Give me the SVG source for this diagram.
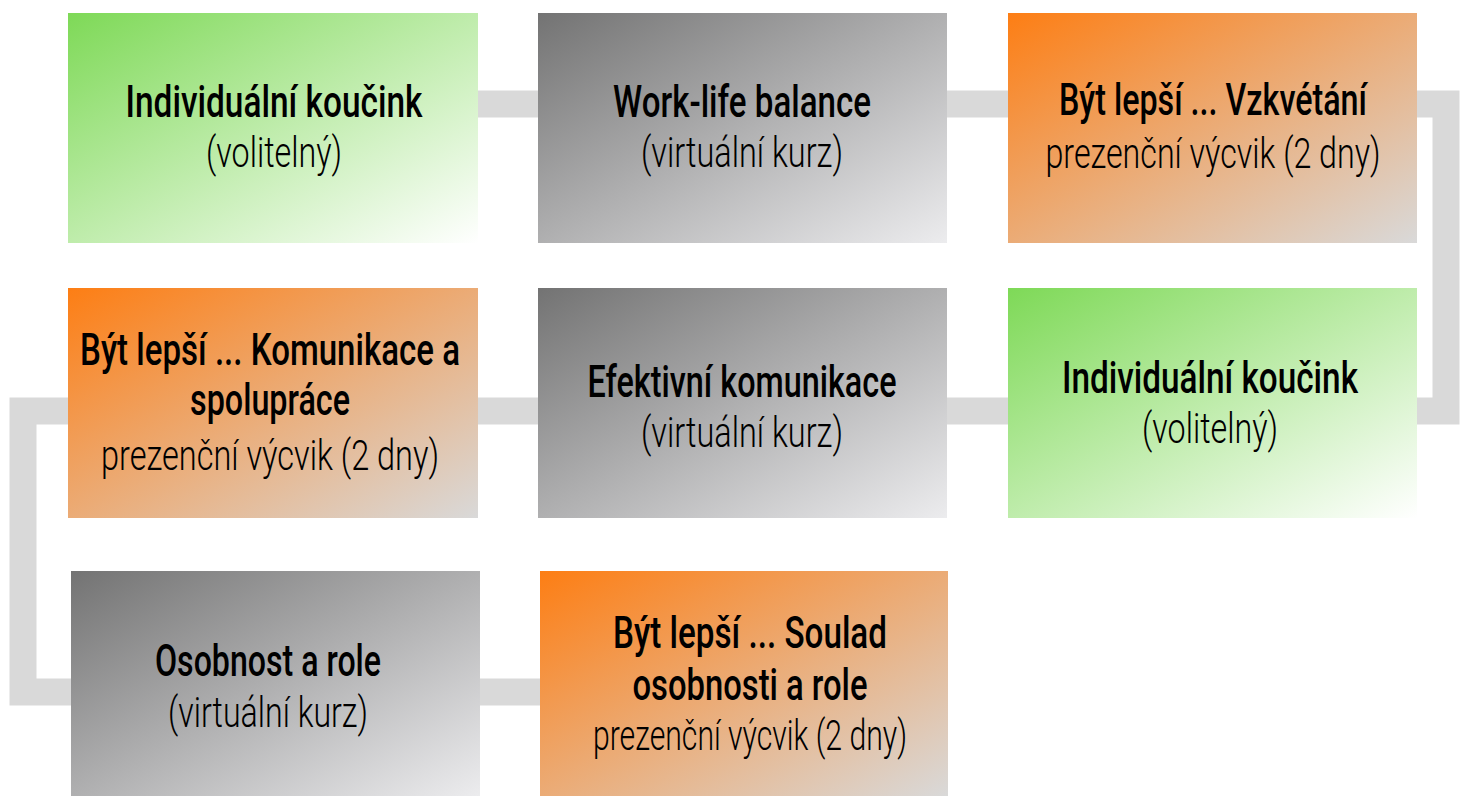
<svg xmlns="http://www.w3.org/2000/svg" width="1463" height="796" viewBox="0 0 1463 796">
<defs>
<linearGradient id="gGreen" x1="0" y1="0" x2="1" y2="1"><stop offset="0" stop-color="#7ed957"/><stop offset="1" stop-color="#ffffff"/></linearGradient>
<linearGradient id="gGray" x1="0" y1="0" x2="1" y2="1"><stop offset="0" stop-color="#737373"/><stop offset="1" stop-color="#ececee"/></linearGradient>
<linearGradient id="gOrange" x1="0" y1="0" x2="1" y2="1"><stop offset="0" stop-color="#fd7e14"/><stop offset="1" stop-color="#d9d9d9"/></linearGradient>
<style>
.t1{font-family:Roboto,"Liberation Sans",sans-serif;font-size:45px;font-weight:500;fill:#000;text-anchor:middle}
.t2{font-family:Roboto,"Liberation Sans",sans-serif;font-size:42px;font-weight:300;fill:#000;text-anchor:middle}
.green{fill:url(#gGreen)}
.gray{fill:url(#gGray)}
.orange{fill:url(#gOrange)}
</style>
</defs>
<rect width="1463" height="796" fill="#fff"/>
<g id="connectors">
<path d="M 273 104 H 1446 V 411 H 23 V 692 H 744" fill="none" stroke="#d9d9d9" stroke-width="27" stroke-linejoin="miter"/>
</g>
<g id="n1">
<rect class="green" x="68" y="13" width="410" height="230"/>
<text class="t1" x="274" y="117" textLength="297" lengthAdjust="spacingAndGlyphs">Individuální koučink</text>
<text class="t2" x="274" y="167" textLength="136" lengthAdjust="spacingAndGlyphs">(volitelný)</text>
</g>
<g id="n2">
<rect class="gray" x="538" y="13" width="409" height="230"/>
<text class="t1" x="742" y="117" textLength="258" lengthAdjust="spacingAndGlyphs">Work-life balance</text>
<text class="t2" x="742" y="167" textLength="202" lengthAdjust="spacingAndGlyphs">(virtuální kurz)</text>
</g>
<g id="n3">
<rect class="orange" x="1008" y="13" width="409" height="230"/>
<text class="t1" x="1213" y="115" textLength="308" lengthAdjust="spacingAndGlyphs">Být lepší ... Vzkvétání</text>
<text class="t2" x="1213" y="168" textLength="335" lengthAdjust="spacingAndGlyphs">prezenční výcvik (2 dny)</text>
</g>
<g id="n4">
<rect class="green" x="1008" y="288" width="409" height="230"/>
<text class="t1" x="1210" y="393" textLength="296" lengthAdjust="spacingAndGlyphs">Individuální koučink</text>
<text class="t2" x="1210" y="443" textLength="136" lengthAdjust="spacingAndGlyphs">(volitelný)</text>
</g>
<g id="n5">
<rect class="gray" x="538" y="288" width="409" height="230"/>
<text class="t1" x="742" y="397" textLength="309" lengthAdjust="spacingAndGlyphs">Efektivní komunikace</text>
<text class="t2" x="742" y="447" textLength="202" lengthAdjust="spacingAndGlyphs">(virtuální kurz)</text>
</g>
<g id="n6">
<rect class="orange" x="68" y="288" width="410" height="230"/>
<text class="t1" x="270" y="365" textLength="380" lengthAdjust="spacingAndGlyphs">Být lepší ... Komunikace a</text>
<text class="t1" x="270" y="415" textLength="160" lengthAdjust="spacingAndGlyphs">spolupráce</text>
<text class="t2" x="270" y="470" textLength="338" lengthAdjust="spacingAndGlyphs">prezenční výcvik (2 dny)</text>
</g>
<g id="n7">
<rect class="gray" x="71" y="571" width="409" height="225"/>
<text class="t1" x="268" y="676" textLength="226" lengthAdjust="spacingAndGlyphs">Osobnost a role</text>
<text class="t2" x="268" y="727" textLength="200" lengthAdjust="spacingAndGlyphs">(virtuální kurz)</text>
</g>
<g id="n8">
<rect class="orange" x="540" y="571" width="408" height="225"/>
<text class="t1" x="750" y="648" textLength="274" lengthAdjust="spacingAndGlyphs">Být lepší ... Soulad</text>
<text class="t1" x="750" y="700" textLength="235" lengthAdjust="spacingAndGlyphs">osobnosti a role</text>
<text class="t2" x="750" y="750" textLength="314" lengthAdjust="spacingAndGlyphs">prezenční výcvik (2 dny)</text>
</g>
</svg>
